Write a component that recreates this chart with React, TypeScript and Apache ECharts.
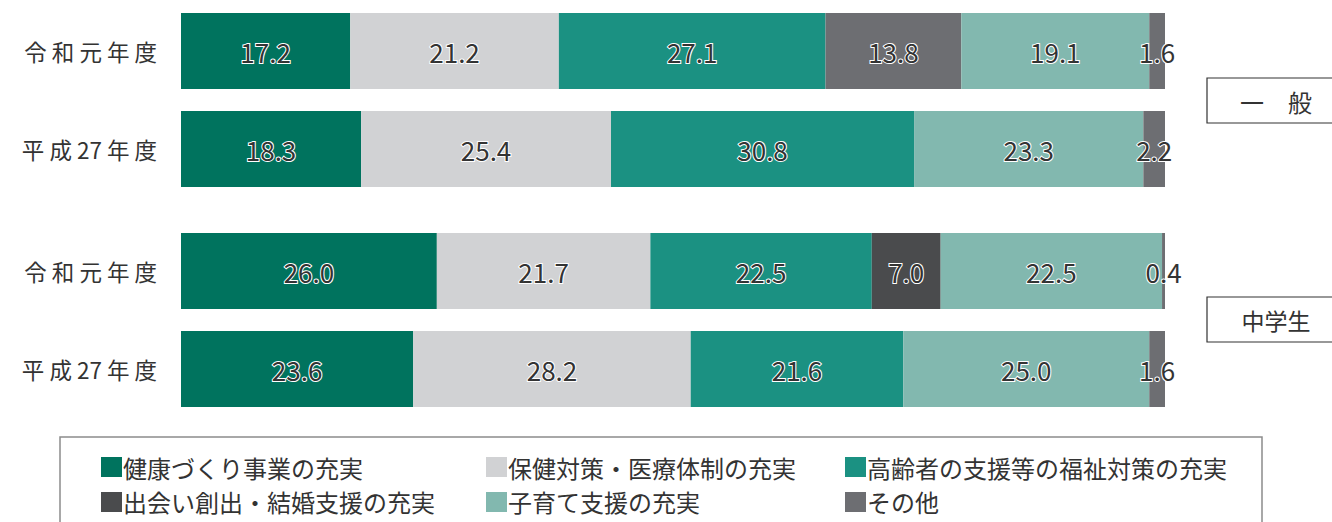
import React, { useEffect, useRef } from "react";
import * as echarts from "echarts";

const groupLabels = ["一　般", "中学生"];
const yearLabels = ["令 和 元 年 度", "平 成 27 年 度"];
const seriesNames = [
  "健康づくり事業の充実",
  "保健対策・医療体制の充実",
  "高齢者の支援等の福祉対策の充実",
  "出会い創出・結婚支援の充実",
  "子育て支援の充実",
  "その他",
];
const colors = ["#00735E", "#D1D2D4", "#1B9182", "#4A4B4D", "#82B8AF", "#6D6E72"];

// 一般
const generalR1 = [17.2, 21.2, 27.1, 13.8, 19.1, 1.6];
const generalH27 = [18.3, 25.4, 30.8, null, 23.3, 2.2];
// 中学生
const juniorR1 = [26.0, 21.7, 22.5, 7.0, 22.5, 0.4];
const juniorH27 = [23.6, 28.2, 21.6, null, 25.0, 1.6];

const FONT = "'Noto Sans CJK JP', 'Noto Sans', sans-serif";

export default function App() {
  const ref = useRef<HTMLDivElement>(null);
  useEffect(() => {
    if (!ref.current) return;
    const chart = echarts.init(ref.current, undefined, { renderer: "svg" });
    const groups = [
      [generalR1, generalH27],
      [juniorR1, juniorH27],
    ];
    const grids = [
      { left: 181, width: 984, top: 2, height: 196 },
      { left: 181, width: 984, top: 222, height: 196 },
    ];
    const xAxes = grids.map((_, g) => ({
      type: "value",
      gridIndex: g,
      min: 0,
      max: 100,
      show: false,
    }));
    const yAxes = grids.map((_, g) => ({
      type: "category",
      gridIndex: g,
      inverse: true,
      data: yearLabels,
      axisLine: { show: false },
      axisTick: { show: false },
      axisLabel: { fontSize: 22.5, color: "#333", margin: 24, fontFamily: FONT },
    }));
    const series: any[] = [];
    groups.forEach((rows, g) => {
      seriesNames.forEach((name, i) => {
        series.push({
          type: "bar",
          name,
          stack: "g" + g,
          xAxisIndex: g,
          yAxisIndex: g,
          barWidth: 76,
          itemStyle: { color: colors[i] },
          data: rows.map((r, ri) => {
            const v = r[i];
            if (v == null) return "-";
            if (g === 0 && ri === 0 && i === 3) {
              return { value: v, itemStyle: { color: "#6D6E72" } };
            }
            return v;
          }),
          label: {
            show: true,
            position: "inside",
            formatter: (p: any) => Number(p.value).toFixed(1),
            fontSize: 26,
            fontFamily: FONT,
            color: "#333",
            textBorderColor: "#fff",
            textBorderWidth: 2,
          },
        });
      });
    });
    const legendCols = [
      { left: 101, data: [seriesNames[0], seriesNames[3]] },
      { left: 486, data: [seriesNames[1], seriesNames[4]] },
      { left: 845, data: [seriesNames[2], seriesNames[5]] },
    ];
    const legends = legendCols.map((c) => ({
      left: c.left,
      top: 455,
      orient: "vertical",
      padding: 0,
      itemGap: 11,
      itemWidth: 21,
      itemHeight: 20,
      icon: "rect",
      selectedMode: false,
      data: c.data,
      textStyle: { fontSize: 24, color: "#333", fontFamily: FONT, padding: [0, 0, 0, -4] },
    }));
    chart.setOption({
      animation: false,
      grid: grids,
      xAxis: xAxes,
      yAxis: yAxes,
      legend: legends,
      series,
      graphic: [
        {
          type: "rect",
          shape: { x: 60, y: 437, width: 1202, height: 120 },
          style: { fill: "none", stroke: "#8c8c8c", lineWidth: 1.5 },
          z: -1,
        },
        {
          type: "rect",
          shape: { x: 1207, y: 78, width: 140, height: 45 },
          style: { fill: "#fff", stroke: "#333", lineWidth: 1.2 },
        },
        {
          type: "text",
          x: 1276,
          y: 101,
          style: {
            text: groupLabels[0],
            fontSize: 24,
            fontFamily: FONT,
            fill: "#333",
            align: "center",
            verticalAlign: "middle",
          },
        },
        {
          type: "rect",
          shape: { x: 1207, y: 297, width: 140, height: 45 },
          style: { fill: "#fff", stroke: "#333", lineWidth: 1.2 },
        },
        {
          type: "text",
          x: 1276,
          y: 320,
          style: {
            text: groupLabels[1],
            fontSize: 23,
            fontFamily: FONT,
            fill: "#333",
            align: "center",
            verticalAlign: "middle",
          },
        },
      ],
    });
    return () => chart.dispose();
  }, []);
  return (
    <div
      ref={ref}
      style={{ position: "fixed", left: 0, top: 0, width: 1332, height: 522, background: "#fff" }}
    />
  );
}
